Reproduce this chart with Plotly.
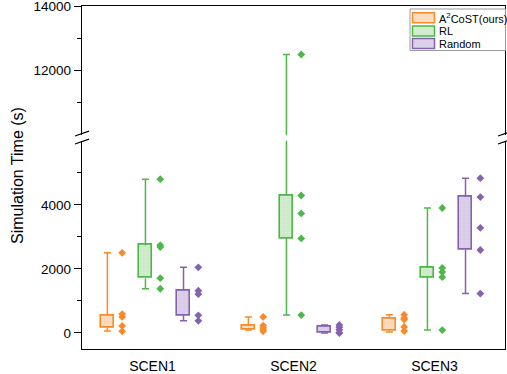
import plotly.graph_objects as go

# ---------------- data ----------------
scenarios = ["SCEN1", "SCEN2", "SCEN3"]
methods = ["A<sup>2</sup>CoST(ours)", "RL", "Random"]

# box statistics (whisker min, Q1, Q3, whisker max) per scenario
a2_min = [60, 90, 30]
a2_q1 = [180, 100, 80]
a2_q3 = [550, 220, 460]
a2_max = [2500, 500, 570]
a2_pts = [[2500, 590, 500, 220, 50], [500, 230, 160, 100, 50], [570, 470, 420, 190, 60]]

rl_min = [1380, 560, 90]
rl_q1 = [1710, 2950, 1740]
rl_q3 = [2740, 4290, 2030]
rl_max = [4800, 12500, 3900]
rl_pts = [[4800, 2740, 2680, 1710, 1380], [12500, 4290, 3730, 2950, 560], [3900, 2030, 1900, 1740, 90]]

rd_min = [380, 0, 1230]
rd_q1 = [550, 10, 2590]
rd_q3 = [1320, 200, 4240]
rd_max = [2050, 250, 4830]
rd_pts = [[2050, 1320, 1210, 550, 380], [250, 180, 100, 10, 0], [4830, 4240, 3280, 2590, 1230]]

y_major_low = [0, 2000, 4000]
y_minor_low = [1000, 3000, 5000]
y_major_up = [12000, 14000]
y_minor_up = [11000, 13000]

# ---------------- style ----------------
colors = ["#F98A2A", "#4DB848", "#8462AE"]
fills = ["#FDDCC0", "#D2ECCE", "#DCD0EA"]
box_offsets = [-0.32, -0.05, 0.22]
pt_shift = 0.105
box_w = 0.088
cap_hw = 0.025
FONT = "Liberation Sans, Arial, sans-serif"

series = [
    (a2_min, a2_q1, a2_q3, a2_max, a2_pts),
    (rl_min, rl_q1, rl_q3, rl_max, rl_pts),
    (rd_min, rd_q1, rd_q3, rd_max, rd_pts),
]

fig = go.Figure()
for k, (mn, q1, q3, mx, pts) in enumerate(series):
    xc = [i + 1 + box_offsets[k] for i in range(len(scenarios))]
    wx, wy = [], []
    for i in range(len(scenarios)):
        x0 = xc[i]
        wx += [x0, x0, None, x0, x0, None,
               x0 - cap_hw, x0 + cap_hw, None, x0 - cap_hw, x0 + cap_hw, None]
        wy += [mn[i], q1[i], None, q3[i], mx[i], None,
               mn[i], mn[i], None, mx[i], mx[i], None]
    px_, py_ = [], []
    for i in range(len(scenarios)):
        for v in pts[i]:
            px_.append(xc[i] + pt_shift)
            py_.append(v)
    for xa, ya in (("x", "y"), ("x2", "y2")):
        fig.add_trace(go.Scatter(x=wx, y=wy, mode="lines", xaxis=xa, yaxis=ya,
                                 line=dict(color=colors[k], width=1.5),
                                 showlegend=False, hoverinfo="skip"))
        fig.add_trace(go.Bar(x=xc, base=q1, y=[b - a for a, b in zip(q1, q3)],
                             width=box_w, xaxis=xa, yaxis=ya, showlegend=False,
                             marker=dict(color=fills[k],
                                         line=dict(color=colors[k], width=1.6),
                                         pattern=dict(shape="+", fgcolor=colors[k],
                                                      fgopacity=0.15, size=4,
                                                      solidity=0.2))))
        fig.add_trace(go.Scatter(x=px_, y=py_, mode="markers", xaxis=xa, yaxis=ya,
                                 marker=dict(symbol="diamond", size=6, color=colors[k]),
                                 showlegend=False))

# ---------------- layout ----------------
L, R, T, B, W, H = 82, 2, 6, 25, 507, 374
PW, PH = W - L - R, H - T - B


def pxx(x):
    return (x - L) / PW


def pyy(y):
    return (H - B - y) / PH


low_dom = [0, pyy(140.7)]
up_dom = [pyy(135.3), 1]

axis_common = dict(showline=True, linecolor="black", linewidth=1.4,
                   tickfont=dict(family=FONT, size=13.5, color="black"),
                   ticklabeloverflow="allow",
                   showgrid=False, zeroline=False, automargin=False)

fig.update_layout(
    width=W, height=H,
    margin=dict(l=L, r=R, t=T, b=B, pad=0, autoexpand=False),
    plot_bgcolor="white", paper_bgcolor="white",
    barmode="overlay", bargap=0,
    showlegend=False,
    xaxis=dict(range=[0.5, 3.5], tickvals=[1, 2, 3], ticktext=scenarios,
               anchor="y", side="bottom", ticks="", ticklabelstandoff=4,
               showline=True, linecolor="black", linewidth=1.4, automargin=False,
               tickfont=dict(family=FONT, size=14, color="black"),
               showgrid=False, zeroline=False),
    xaxis2=dict(range=[0.5, 3.5], matches="x", anchor="y2", side="top",
                showticklabels=False, ticks="", showline=True, automargin=False,
                linecolor="black", linewidth=1.4, showgrid=False, zeroline=False),
    yaxis=dict(domain=low_dom, range=[-500, 6000], anchor="x",
               tickvals=y_major_low, ticktext=[str(v) for v in y_major_low],
               ticks="outside", ticklen=7, tickwidth=1.3,
               tickcolor="black", mirror=True,
               minor=dict(tickvals=y_minor_low, ticks="outside", ticklen=4,
                          tickwidth=1.3, tickcolor="black"),
               **axis_common),
    yaxis2=dict(domain=up_dom, range=[10000, 14001], anchor="x2",
                tickvals=y_major_up, ticktext=[str(v) for v in y_major_up],
                ticks="outside", ticklen=7, tickwidth=1.3,
                tickcolor="black", mirror=True,
                minor=dict(tickvals=y_minor_up, ticks="outside", ticklen=4,
                           tickwidth=1.3, tickcolor="black"),
                **axis_common),
)

shapes = []
# axis break marks (left and right)
for xl, xr in ((75, 89), (498, 507)):
    for y0 in (144, 136):
        shapes.append(dict(type="line", xref="paper", yref="paper",
                           x0=pxx(xl), y0=pyy(y0), x1=pxx(xr), y1=pyy(y0 - 0.35 * (xr - xl)),
                           line=dict(color="black", width=1.2)))

# manual legend
shapes.append(dict(type="rect", xref="paper", yref="paper",
                   x0=pxx(410), x1=pxx(505.5), y0=pyy(50.5), y1=pyy(9),
                   line=dict(color="#9a9a9a", width=1), fillcolor="white", layer="above"))
annotations = []
row_c = [17.8, 31, 43.5]
for k in range(3):
    shapes.append(dict(type="rect", xref="paper", yref="paper",
                       x0=pxx(412.5), x1=pxx(434.5),
                       y0=pyy(row_c[k] + 5), y1=pyy(row_c[k] - 5),
                       line=dict(color=colors[k], width=1.5), fillcolor=fills[k],
                       layer="above"))
    annotations.append(dict(xref="paper", yref="paper", x=pxx(436.5), y=pyy(row_c[k]),
                            text=methods[k], showarrow=False, xanchor="left",
                            yanchor="middle",
                            font=dict(family=FONT, size=11, color="black")))

annotations.append(dict(xref="paper", yref="paper", x=pxx(17), y=pyy(176),
                        text="Simulation Time (s)", textangle=-90, showarrow=False,
                        xanchor="center", yanchor="middle",
                        font=dict(family=FONT, size=16, color="black")))

fig.update_layout(shapes=shapes, annotations=annotations)
fig.write_html("out.html", config={"displayModeBar": False},
               post_script="document.body.style.margin='0';document.body.style.overflow='hidden';")
